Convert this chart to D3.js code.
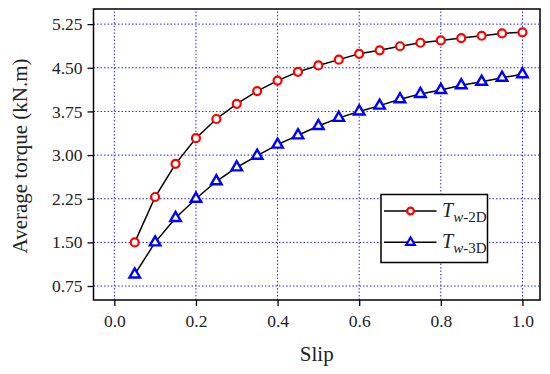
<!DOCTYPE html>
<html>
<head>
<meta charset="utf-8">
<script src="https://cdn.jsdelivr.net/npm/d3@7"></script>
<style>
  body { margin: 0; background: #fff; }
  svg text { font-family: 'Liberation Serif', 'DejaVu Serif', serif; fill: #222; }
</style>
</head>
<body>
<div id="chart"></div>
<script>
// slip values and torque readings
var slip = [0.05, 0.10, 0.15, 0.20, 0.25, 0.30, 0.35, 0.40, 0.45, 0.50,
            0.55, 0.60, 0.65, 0.70, 0.75, 0.80, 0.85, 0.90, 0.95, 1.00];
var torque2D = [1.50, 2.28, 2.85, 3.29, 3.62, 3.88, 4.10, 4.28, 4.43, 4.54,
                4.64, 4.74, 4.80, 4.87, 4.93, 4.97, 5.01, 5.05, 5.09, 5.11];
var torque3D = [0.95, 1.50, 1.92, 2.25, 2.55, 2.79, 2.99, 3.18, 3.34, 3.50,
                3.64, 3.75, 3.85, 3.96, 4.05, 4.12, 4.20, 4.26, 4.33, 4.39];
var xTicks = [0.0, 0.2, 0.4, 0.6, 0.8, 1.0];
var yTicks = [0.75, 1.50, 2.25, 3.00, 3.75, 4.50, 5.25];
var seriesNames = ["w-2D", "w-3D"];

var width = 550, height = 374;
var margin = {top: 9, right: 10, bottom: 74, left: 93.5};

var svg = d3.select("#chart").append("svg")
    .attr("width", width)
    .attr("height", height);

var x = d3.scaleLinear().domain([-0.051, 1.043]).range([margin.left, width - margin.right]);
var y = d3.scaleLinear().domain([0.51, 5.51]).range([height - margin.bottom, margin.top]);

// grid
svg.append("g").selectAll("line")
  .data(xTicks).enter().append("line")
    .attr("x1", function(d){ return x(d); })
    .attr("x2", function(d){ return x(d); })
    .attr("y1", y.range()[0]).attr("y2", y.range()[1])
    .attr("stroke", "#2020ff").attr("stroke-width", 1)
    .attr("stroke-dasharray", "1.5,2");
svg.append("g").selectAll("line")
  .data(yTicks).enter().append("line")
    .attr("y1", function(d){ return y(d); })
    .attr("y2", function(d){ return y(d); })
    .attr("x1", x.range()[0]).attr("x2", x.range()[1])
    .attr("stroke", "#2020ff").attr("stroke-width", 1)
    .attr("stroke-dasharray", "1.5,2");

// axes
var xAxis = svg.append("g")
    .attr("transform", "translate(0," + (height - margin.bottom) + ")")
    .call(d3.axisBottom(x).tickValues(xTicks).tickFormat(d3.format(".1f")).tickSize(6).tickSizeOuter(0));
var yAxis = svg.append("g")
    .attr("transform", "translate(" + margin.left + ",0)")
    .call(d3.axisLeft(y).tickValues(yTicks).tickFormat(d3.format(".2f")).tickSize(6).tickSizeOuter(0));
[xAxis, yAxis].forEach(function(a){
  a.attr("font-family", null);
  a.select(".domain").remove();
  a.selectAll(".tick line").attr("stroke", "#000").attr("stroke-width", 1.3);
  a.selectAll(".tick text").style("font-size", "17.5px").attr("fill", "#222");
});
xAxis.selectAll(".tick text").attr("dy", "1.05em");
yAxis.selectAll(".tick text").attr("x", -11);

// frame
svg.append("rect")
    .attr("x", margin.left).attr("y", margin.top)
    .attr("width", width - margin.left - margin.right)
    .attr("height", height - margin.top - margin.bottom)
    .attr("fill", "none").attr("stroke", "#000").attr("stroke-width", 1.5);

// series
var line = d3.line()
    .x(function(d){ return x(d[0]); })
    .y(function(d){ return y(d[1]); });

var data2D = d3.zip(slip, torque2D);
var data3D = d3.zip(slip, torque3D);

svg.append("path").datum(data2D).attr("d", line)
    .attr("fill", "none").attr("stroke", "#000").attr("stroke-width", 1.5);
svg.append("path").datum(data3D).attr("d", line)
    .attr("fill", "none").attr("stroke", "#000").attr("stroke-width", 1.5);

var circle = d3.symbol().type(d3.symbolCircle).size(50);
var tri = d3.symbol().type(d3.symbolTriangle).size(48);

svg.append("g").selectAll("path")
  .data(data2D).enter().append("path")
    .attr("d", circle)
    .attr("transform", function(d){ return "translate(" + x(d[0]) + "," + y(d[1]) + ")"; })
    .attr("fill", "#fff").attr("stroke", "#ff0000").attr("stroke-width", 2.2);
svg.append("g").selectAll("path")
  .data(data3D).enter().append("path")
    .attr("d", tri)
    .attr("transform", function(d){ return "translate(" + x(d[0]) + "," + y(d[1]) + ")"; })
    .attr("fill", "#fff").attr("stroke", "#0000ff").attr("stroke-width", 2.4);

// legend
var lg = svg.append("g").attr("transform", "translate(381,194.5)");
lg.append("rect").attr("width", 106.5).attr("height", 68)
  .attr("fill", "#fff").attr("stroke", "#000").attr("stroke-width", 1.5);
var legendSymbols = [
  d3.symbol().type(d3.symbolCircle).size(35),
  d3.symbol().type(d3.symbolTriangle).size(32)
];
var legendColors = ["#ff0000", "#0000ff"];
seriesNames.forEach(function(name, i){
  var cy = 16.5 + i * 31.3;
  lg.append("line").attr("x1", 3).attr("x2", 55.5).attr("y1", cy).attr("y2", cy)
    .attr("stroke", "#000").attr("stroke-width", 1.5);
  lg.append("path").attr("d", legendSymbols[i])
    .attr("transform", "translate(29.5," + cy + ")")
    .attr("fill", "#fff").attr("stroke", legendColors[i]).attr("stroke-width", 2.2);
  var t = lg.append("text").attr("x", 61).attr("y", cy + 6).style("font-size", "20px");
  t.append("tspan").style("font-style", "italic").text("T");
  var parts = name.split("-");
  t.append("tspan").attr("dy", 5).style("font-size", "15px").style("font-style", "italic").text(parts[0]);
  t.append("tspan").style("font-size", "15px").text("-" + parts[1]);
});

// axis titles
svg.append("text")
    .attr("x", (margin.left + width - margin.right) / 2)
    .attr("y", 361)
    .attr("text-anchor", "middle")
    .style("font-size", "21px")
    .text("Slip");
svg.append("text")
    .attr("transform", "translate(27," + 156 + ") rotate(-90)")
    .attr("text-anchor", "middle")
    .style("font-size", "21px")
    .text("Average torque (kN.m)");
</script>
</body>
</html>
